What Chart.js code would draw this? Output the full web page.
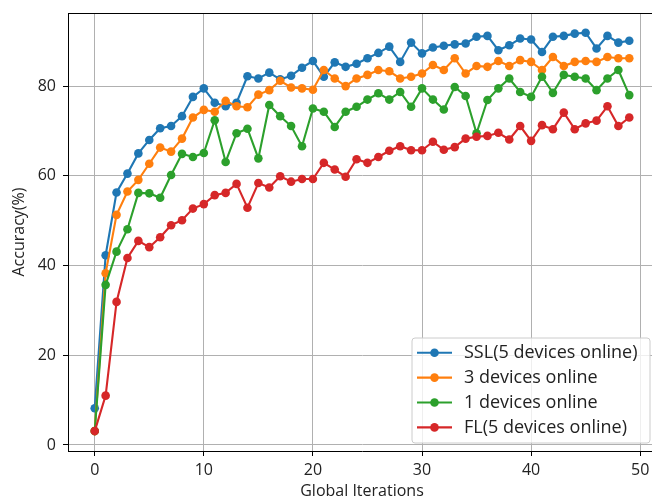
<!DOCTYPE html>
<html>
<head>
<meta charset="utf-8">
<script src="https://cdn.jsdelivr.net/npm/chart.js@4"></script>
<style>
    html, body { margin: 0; padding: 0; background: #fff; overflow: hidden; }
    #wrap { position: absolute; left: 0; top: 0; }
</style>
</head>
<body>
<div id="wrap"><canvas id="accChart" width="670" height="499"></canvas></div>
<script>
// global iteration index
const iterations = Array.from({ length: 50 }, (_, i) => i);

// accuracy (%) per iteration
const sslAcc = [8.2, 42.3, 56.3, 60.5, 65.0, 68.0, 70.6, 71.1, 73.3, 77.6,
    79.5, 76.3, 75.5, 76.3, 82.2, 81.7, 83.0, 81.5, 82.3, 84.1,
    85.6, 82.1, 85.3, 84.3, 85.0, 86.2, 87.4, 88.8, 85.4, 89.7,
    87.3, 88.6, 89.0, 89.3, 89.5, 91.0, 91.2, 88.0, 89.1, 90.6,
    90.4, 87.6, 91.0, 91.2, 91.7, 91.9, 88.4, 91.2, 89.7, 90.1];
const threeDevAcc = [3.1, 38.3, 51.3, 56.5, 59.1, 62.7, 66.3, 65.4, 68.3, 73.0,
    74.7, 74.3, 76.7, 75.5, 75.3, 78.1, 79.1, 81.2, 79.7, 79.5,
    79.2, 83.6, 81.7, 80.0, 81.7, 82.5, 83.6, 83.3, 81.7, 82.1,
    82.8, 84.7, 83.6, 86.2, 82.8, 84.5, 84.3, 85.6, 84.5, 85.8,
    85.4, 83.6, 86.5, 84.5, 85.4, 85.6, 85.4, 86.5, 86.2, 86.2];
const oneDevAcc = [3.1, 35.7, 43.1, 48.1, 56.2, 56.1, 55.1, 60.2, 64.9, 64.2,
    65.1, 72.4, 63.1, 69.5, 70.5, 63.9, 75.8, 73.3, 71.1, 66.6,
    75.0, 74.3, 70.9, 74.3, 75.4, 77.0, 78.4, 77.0, 78.7, 75.4,
    79.5, 77.0, 74.8, 79.8, 77.8, 69.5, 76.9, 79.5, 81.7, 78.7,
    77.6, 82.1, 78.5, 82.5, 82.1, 81.7, 79.1, 81.7, 83.6, 78.0];
const flAcc = [3.1, 11.0, 31.9, 41.7, 45.5, 44.1, 46.3, 49.0, 50.1, 52.7,
    53.7, 55.7, 56.2, 58.2, 52.9, 58.4, 57.4, 59.9, 58.7, 59.3,
    59.3, 62.9, 61.4, 59.8, 63.7, 62.9, 64.2, 65.6, 66.6, 65.7,
    65.7, 67.6, 65.8, 66.4, 68.3, 68.7, 68.9, 69.6, 68.1, 71.1,
    67.8, 71.3, 70.4, 74.1, 70.4, 71.7, 72.3, 75.5, 71.1, 73.0];

const seriesLabels = ["SSL(5 devices online)", "3 devices online", "1 devices online", "FL(5 devices online)"];
const xTicks = [0, 10, 20, 30, 40, 50];
const yTicks = [0, 20, 40, 60, 80];

const colors = ["#1f77b4", "#ff7f0e", "#2ca02c", "#d62728"];
const FONT = "'Open Sans', sans-serif";

function toPoints(vals) {
    return iterations.map((x, i) => ({ x: x, y: vals[i] }));
}

function makeDataset(idx, vals) {
    return {
        label: seriesLabels[idx],
        data: toPoints(vals),
        borderColor: colors[idx],
        backgroundColor: colors[idx],
        pointBackgroundColor: colors[idx],
        pointBorderColor: colors[idx],
        pointRadius: 4.3,
        pointBorderWidth: 0,
        borderWidth: 2.1,
        tension: 0,
        order: 4 - idx
    };
}

// top spine + legend box inside the plot, lower right
const boxLegend = {
    id: "boxLegend",
    afterDraw(chart) {
        const ctx = chart.ctx;
        const a = chart.chartArea;
        ctx.save();
        ctx.strokeStyle = "#000";
        ctx.lineWidth = 1;
        ctx.beginPath();
        ctx.moveTo(a.left, a.top + 0.5);
        ctx.lineTo(a.right, a.top + 0.5);
        ctx.stroke();

        const x0 = 412, y0 = 338, w = 238, h = 105;
        ctx.beginPath();
        ctx.roundRect(x0, y0, w, h, 3);
        ctx.fillStyle = "rgba(255,255,255,0.8)";
        ctx.fill();
        ctx.strokeStyle = "#cccccc";
        ctx.stroke();
        ctx.font = "18px " + FONT;
        ctx.textBaseline = "middle";
        chart.data.datasets.forEach((ds, i) => {
            const cy = 352.7 + i * 24.9;
            ctx.strokeStyle = ds.borderColor;
            ctx.lineWidth = 2.1;
            ctx.beginPath();
            ctx.moveTo(417, cy);
            ctx.lineTo(452, cy);
            ctx.stroke();
            ctx.fillStyle = ds.borderColor;
            ctx.beginPath();
            ctx.arc(434.5, cy, 4.3, 0, Math.PI * 2);
            ctx.fill();
            ctx.fillStyle = "#222";
            ctx.fillText(ds.label, 464, cy);
        });
        ctx.restore();
    }
};

new Chart(document.getElementById("accChart"), {
    type: "line",
    data: {
        datasets: [
            makeDataset(0, sslAcc),
            makeDataset(1, threeDevAcc),
            makeDataset(2, oneDevAcc),
            makeDataset(3, flAcc)
        ]
    },
    options: {
        responsive: false,
        animation: false,
        devicePixelRatio: 1,
        layout: { padding: { top: 13, right: 14, left: 0, bottom: 0 } },
        plugins: {
            legend: { display: false },
            tooltip: { enabled: false }
        },
        scales: {
            x: {
                type: "linear",
                min: -2.45,
                max: 51.45,
                afterFit: s => { s.height = 48; },
                afterBuildTicks: s => { s.ticks = xTicks.map(v => ({ value: v })); },
                grid: { color: "#b0b0b0", lineWidth: 1, tickColor: "#000", tickLength: 5 },
                border: { color: "#000", width: 1 },
                ticks: { color: "#222", font: { family: FONT, size: 16 }, padding: 5, maxRotation: 0 },
                title: { display: true, text: "Global Iterations", color: "#222", font: { family: FONT, size: 16, lineHeight: 1 }, padding: { top: 0, bottom: 0 } }
            },
            y: {
                min: -1.34,
                max: 96.3,
                afterFit: s => { s.width = 68; s.paddingTop = 0; s.paddingBottom = 0; },
                afterBuildTicks: s => { s.ticks = yTicks.map(v => ({ value: v })); },
                grid: { color: "#b0b0b0", lineWidth: 1, tickColor: "#000", tickLength: 5 },
                border: { color: "#000", width: 1 },
                ticks: { color: "#222", font: { family: FONT, size: 16, lineHeight: 1 }, padding: 7 },
                title: { display: true, text: "Accuracy(%)", color: "#222", font: { family: FONT, size: 16 }, padding: { top: 10, bottom: 0 } }
            }
        }
    },
    plugins: [boxLegend]
});
</script>
</body>
</html>
